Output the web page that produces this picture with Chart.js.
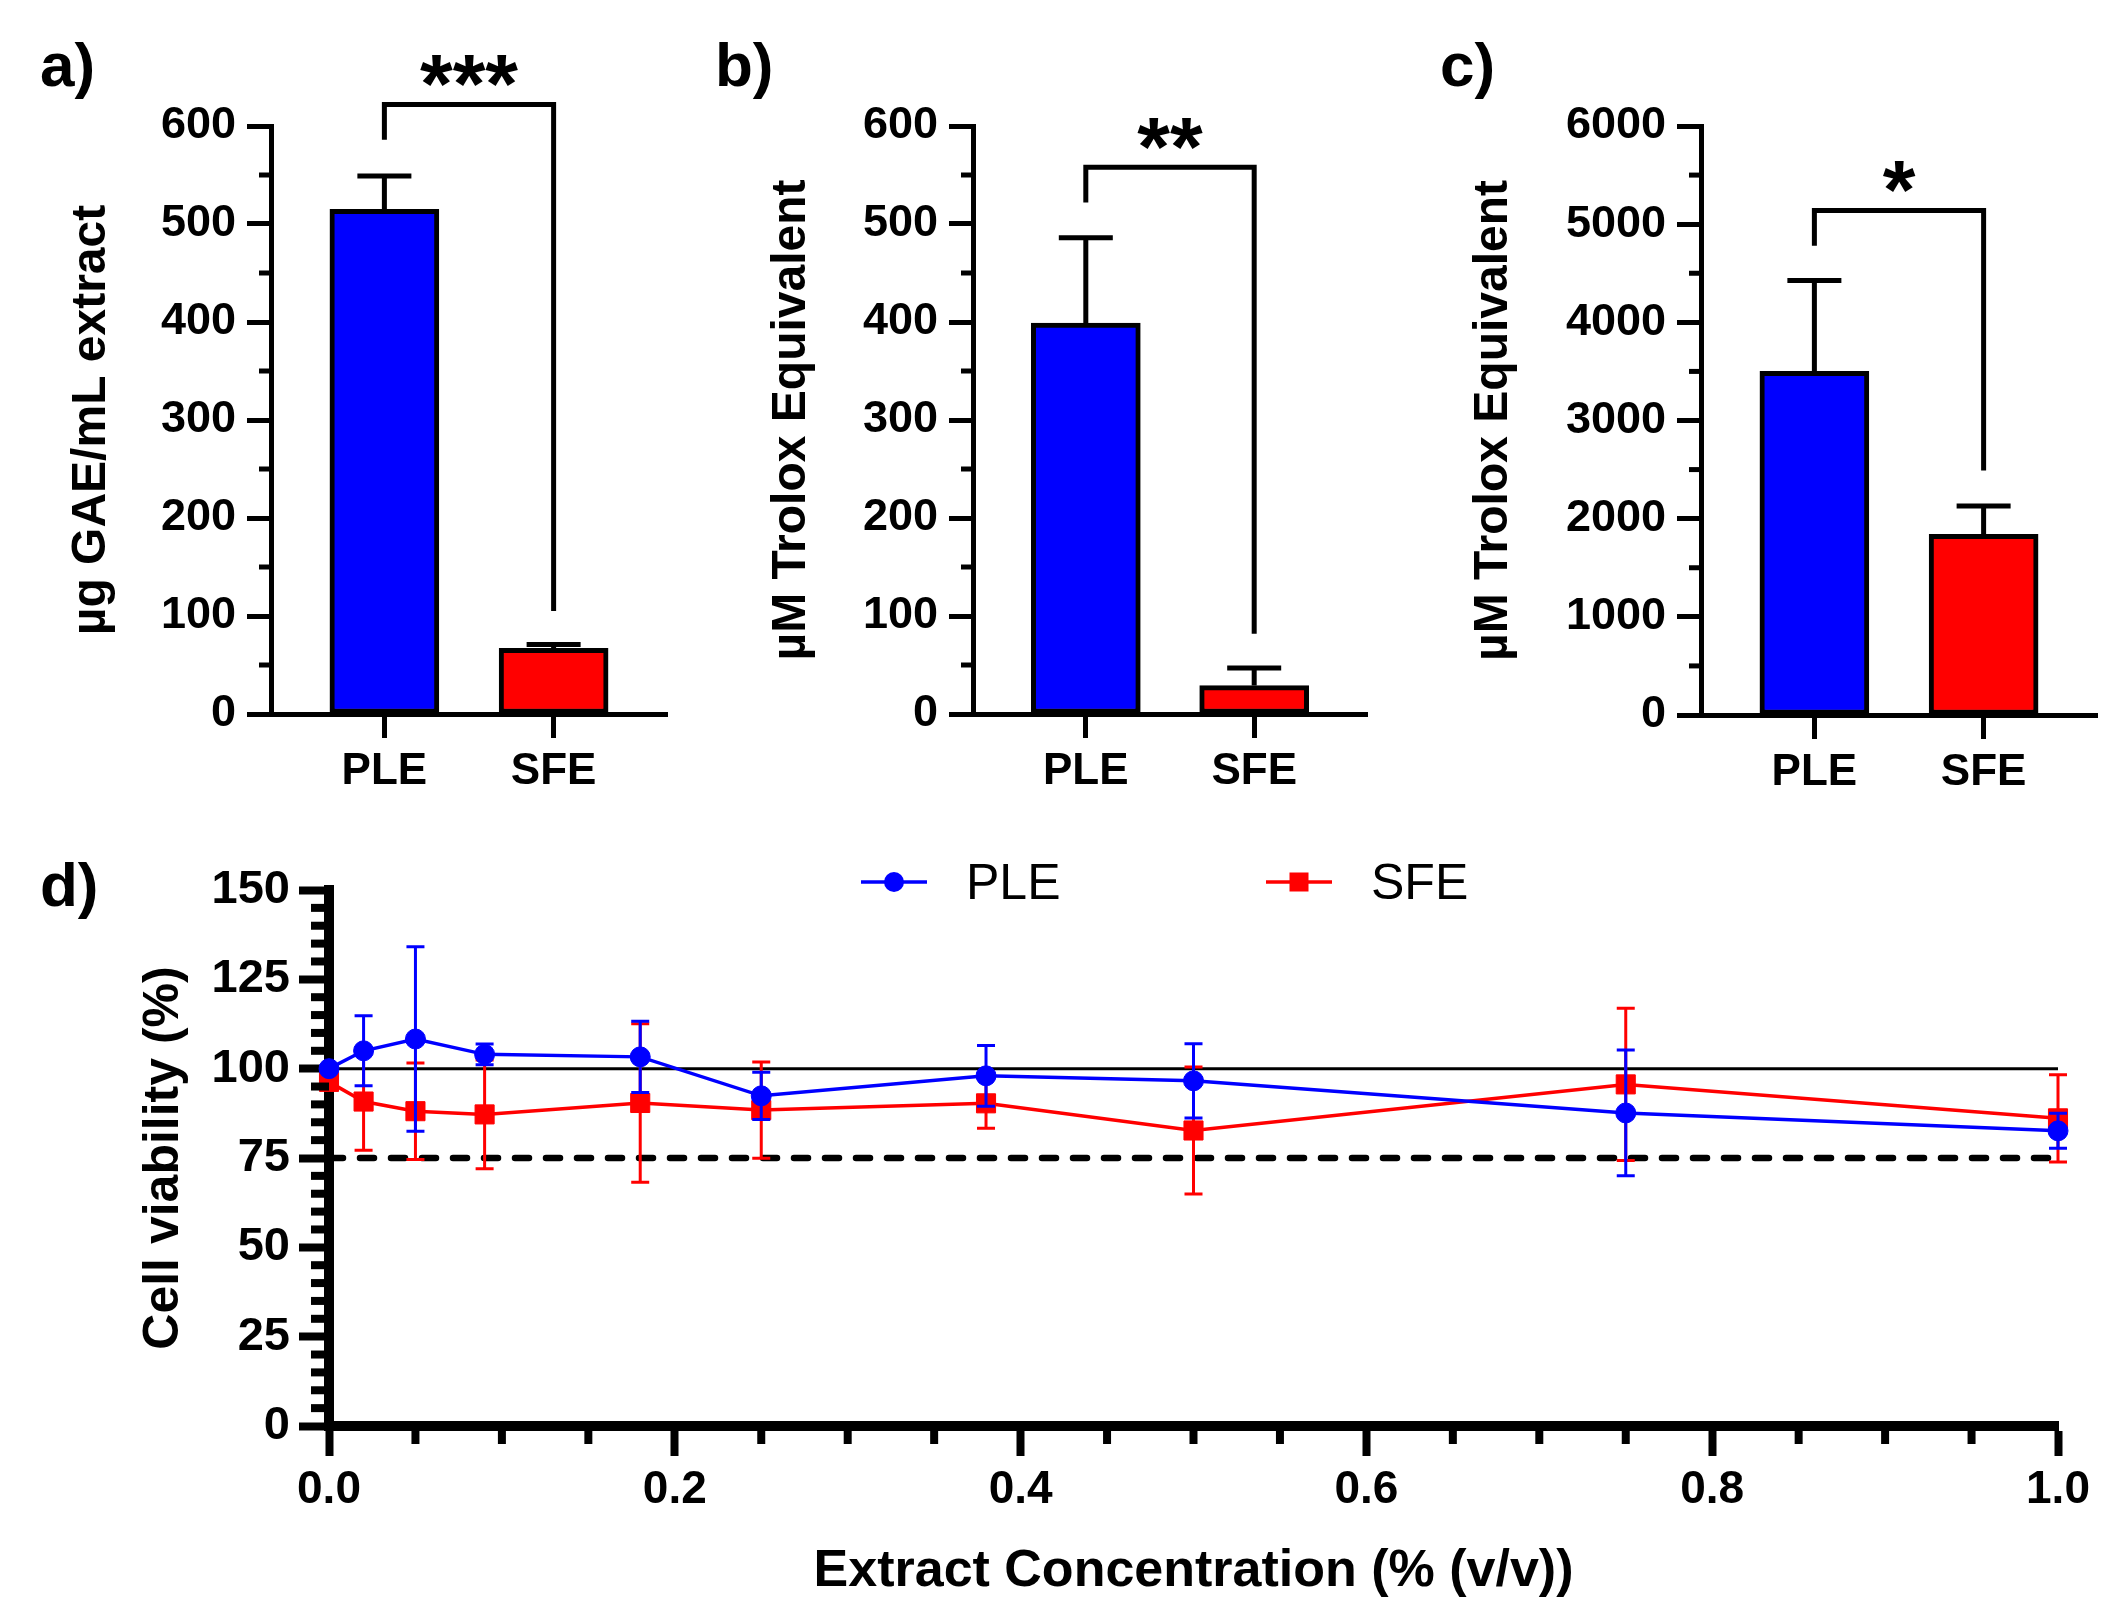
<!DOCTYPE html>
<html>
<head>
<meta charset="utf-8">
<script src="https://cdn.jsdelivr.net/npm/chart.js@4.4.1/dist/chart.umd.min.js"></script>
<style>
  html, body { margin: 0; padding: 0; background: #fff; overflow: hidden; }
  #page { position: relative; width: 2124px; height: 1597px; background: #fff; }
  canvas { position: absolute; }
</style>
</head>
<body>
<div id="page">
  <canvas id="chartA" width="700" height="800" style="left:0;top:0"></canvas>
  <canvas id="chartB" width="700" height="800" style="left:700px;top:0"></canvas>
  <canvas id="chartC" width="724" height="800" style="left:1400px;top:0"></canvas>
  <canvas id="chartD" width="2124" height="820" style="left:0;top:800px"></canvas>
</div>
<script>
// ---- data ----
const groups = ["PLE", "SFE"];

// a) total phenolics
const phenolicsMean = [515, 67];
const phenolicsSd = [34, 4];
const phenolicsTicks = [0, 100, 200, 300, 400, 500, 600];
const phenolicsBracket = [586, 622, 105]; // left end, top, right end
const phenolicsStars = "***";

// b) Trolox equivalent (first assay)
const troloxBMean = [399, 29];
const troloxBSd = [87, 18];
const troloxBTicks = [0, 100, 200, 300, 400, 500, 600];
const troloxBBracket = [522, 558, 82];
const troloxBStars = "**";

// c) Trolox equivalent (second assay)
const troloxCMean = [3500, 1840];
const troloxCSd = [925, 290];
const troloxCTicks = [0, 1000, 2000, 3000, 4000, 5000, 6000];
const troloxCBracket = [4780, 5140, 2490];
const troloxCStars = "*";

// d) cell viability
const concentration = [0, 0.02, 0.05, 0.09, 0.18, 0.25, 0.38, 0.5, 0.75, 1.0];
const pleViability = [100, 105, 108.3, 104, 103.3, 92.4, 98, 96.6, 87.6, 82.6];
const pleSd = [0, 9.8, 25.8, 2.9, 10, 6.6, 8.5, 10.4, 17.6, 4.9];
const sfeViability = [96.3, 90.8, 88.1, 87.2, 90.4, 88.4, 90.3, 82.7, 95.6, 86.1];
const sfeSd = [2, 13.6, 13.5, 15.2, 22.2, 13.5, 7, 17.8, 21.3, 12.2];
const viabilityTicks = [0, 25, 50, 75, 100, 125, 150];
const concentrationTicks = [0, 0.2, 0.4, 0.6, 0.8, 1.0];
const controlLevel = 100;
const cutoffLevel = 75;

const FONT = "'Liberation Sans', Arial, Helvetica, sans-serif";
Chart.defaults.font.family = FONT;
Chart.defaults.color = "#000";

// short unlabeled ticks
const minorTicks = {
  id: "minorTicks",
  afterDraw(chart, args, o) {
    const { ctx, chartArea, scales } = chart;
    ctx.save();
    ctx.strokeStyle = "#000";
    ctx.lineWidth = o.width;
    scales.y.ticks.forEach((t) => {
      if (t.label !== "") return;
      const p = scales.y.getPixelForValue(t.value);
      ctx.beginPath();
      ctx.moveTo(chartArea.left, p);
      ctx.lineTo(chartArea.left - o.len, p);
      ctx.stroke();
    });
    if (o.x) {
      scales.x.ticks.forEach((t) => {
        if (t.label !== "") return;
        const p = scales.x.getPixelForValue(t.value);
        ctx.beginPath();
        ctx.moveTo(p, chartArea.bottom);
        ctx.lineTo(p, chartArea.bottom + o.len);
        ctx.stroke();
      });
    }
    ctx.restore();
  },
};

function drawErrors(chart, index, o) {
  const ds = chart.data.datasets[index];
  if (!ds.sd) return;
  const meta = chart.getDatasetMeta(index);
  const { ctx, scales } = chart;
  ctx.save();
  ctx.strokeStyle = ds.errColor || "#000";
  ctx.lineWidth = o.width;
  meta.data.forEach((el, i) => {
    const m = ds.data[i].y;
    const s = ds.sd[i];
    if (!s) return;
    const hi = scales.y.getPixelForValue(m + s);
    const lo = scales.y.getPixelForValue(o.both ? m - s : m);
    ctx.beginPath();
    ctx.moveTo(el.x, lo);
    ctx.lineTo(el.x, hi);
    ctx.moveTo(el.x - o.cap, hi);
    ctx.lineTo(el.x + o.cap, hi);
    if (o.both) {
      ctx.moveTo(el.x - o.cap, lo);
      ctx.lineTo(el.x + o.cap, lo);
    }
    ctx.stroke();
  });
  ctx.restore();
}

const errorBars = {
  id: "errorBars",
  beforeDatasetDraw(chart, args, o) {
    if (o.under) drawErrors(chart, args.index, o);
  },
  afterDatasetDraw(chart, args, o) {
    if (!o.under) drawErrors(chart, args.index, o);
  },
};

// panel letter + significance bracket
const annotate = {
  id: "annotate",
  afterDraw(chart, args, o) {
    const { ctx, scales } = chart;
    ctx.save();
    ctx.fillStyle = "#000";
    ctx.textBaseline = "alphabetic";
    ctx.font = "bold 62px " + FONT;
    ctx.fillText(o.tag, o.tagX, o.tagY);
    if (o.bracket) {
      const x1 = scales.x.getPixelForValue(1);
      const x2 = scales.x.getPixelForValue(2);
      const [l, top, r] = o.bracket;
      const yt = scales.y.getPixelForValue(top);
      ctx.strokeStyle = "#000";
      ctx.lineWidth = 5;
      ctx.lineJoin = "miter";
      ctx.beginPath();
      ctx.moveTo(x1, scales.y.getPixelForValue(l));
      ctx.lineTo(x1, yt);
      ctx.lineTo(x2, yt);
      ctx.lineTo(x2, scales.y.getPixelForValue(r));
      ctx.stroke();
      ctx.font = "bold 84px " + FONT;
      ctx.textAlign = "center";
      ctx.fillText(o.stars, (x1 + x2) / 2, yt + 9);
    }
    ctx.restore();
  },
};

// legend drawn inside the plot: line + marker + label
const seriesKey = {
  id: "seriesKey",
  afterDraw(chart, args, o) {
    const { ctx, chartArea } = chart;
    ctx.save();
    o.items.forEach((it) => {
      const ds = chart.data.datasets[it.index];
      const cx = chartArea.left + it.dx;
      const cy = chartArea.top + o.dy;
      ctx.strokeStyle = ds.borderColor;
      ctx.fillStyle = ds.borderColor;
      ctx.lineWidth = 3.5;
      ctx.beginPath();
      ctx.moveTo(cx - 33, cy);
      ctx.lineTo(cx + 33, cy);
      ctx.stroke();
      if (ds.pointStyle === "rect") {
        ctx.fillRect(cx - 9.5, cy - 9.5, 19, 19);
      } else {
        ctx.beginPath();
        ctx.arc(cx, cy, 10, 0, Math.PI * 2);
        ctx.fill();
      }
      ctx.fillStyle = "#000";
      ctx.font = "50px " + FONT;
      ctx.textBaseline = "middle";
      ctx.fillText(ds.label, cx + 72, cy + 3);
    });
    ctx.restore();
  },
};

function barPanel(id, title, means, sds, tickList, step, max, bracket, stars, tag, box) {
  new Chart(document.getElementById(id), {
    type: "bar",
    data: {
      datasets: [
        {
          data: means.map((m, i) => ({ x: i + 1, y: m })),
          backgroundColor: ["#0000ff", "#ff0000"],
          borderColor: "#000",
          borderWidth: 5,
          borderSkipped: false,
          barThickness: 109,
          sd: sds,
          errColor: "#000",
        },
      ],
    },
    options: {
      responsive: false,
      animation: false,
      layout: { padding: { left: 0, top: box.top, right: box.right, bottom: 0 } },
      plugins: {
        legend: { display: false },
        tooltip: { enabled: false },
        minorTicks: { len: 12, width: 5 },
        errorBars: { width: 5, cap: 27, both: false, under: false },
        annotate: { tag: tag, tagX: box.tagX, tagY: 86, bracket: bracket, stars: stars },
      },
      scales: {
        x: {
          type: "linear",
          min: 0.33,
          max: 2.67,
          offset: false,
          afterBuildTicks: (s) => {
            s.ticks = groups.map((g, i) => ({ value: i + 1 }));
          },
          afterFit: (s) => {
            s.height = box.xh;
          },
          border: { color: "#000", width: 5 },
          grid: { drawOnChartArea: false, offset: false, tickLength: 24, tickWidth: 5, tickColor: "#000" },
          ticks: {
            callback: (v) => groups[v - 1],
            autoSkip: false,
            maxRotation: 0,
            padding: 7,
            font: { size: 44, weight: "bold" },
          },
        },
        y: {
          min: 0,
          max: max,
          afterFit: (s) => {
            s.width = box.yw;
          },
          border: { color: "#000", width: 5 },
          grid: {
            drawOnChartArea: false,
            tickLength: 24,
            tickWidth: 5,
            tickColor: (c) => (c.tick && c.tick.label !== "" ? "#000" : "rgba(0,0,0,0)"),
          },
          ticks: {
            stepSize: step,
            autoSkip: false,
            padding: 11,
            callback: (v) => (tickList.includes(v) ? String(v) : ""),
            font: { size: 45, weight: "bold" },
          },
          title: {
            display: true,
            text: title,
            font: { size: 48, weight: "bold" },
            padding: { top: box.tp, bottom: 0 },
          },
        },
      },
    },
    plugins: [minorTicks, errorBars, annotate],
  });
}

barPanel("chartA", "µg GAE/mL extract", phenolicsMean, phenolicsSd, phenolicsTicks, 50, 600,
  phenolicsBracket, phenolicsStars, "a)", { top: 126, right: 33, xh: 86, yw: 271, tp: 63, tagX: 40 });
barPanel("chartB", "µM Trolox Equivalent", troloxBMean, troloxBSd, troloxBTicks, 50, 600,
  troloxBBracket, troloxBStars, "b)", { top: 126, right: 33, xh: 86, yw: 273, tp: 63, tagX: 15 });
barPanel("chartC", "µM Trolox Equivalent", troloxCMean, troloxCSd, troloxCTicks, 500, 6000,
  troloxCBracket, troloxCStars, "c)", { top: 126, right: 27, xh: 85, yw: 301, tp: 65, tagX: 40 });

// ---- panel d ----
new Chart(document.getElementById("chartD"), {
  type: "line",
  data: {
    datasets: [
      {
        label: "PLE",
        data: concentration.map((c, i) => ({ x: c, y: pleViability[i] })),
        borderColor: "#0000ff",
        backgroundColor: "#0000ff",
        pointBackgroundColor: "#0000ff",
        pointBorderColor: "#0000ff",
        borderWidth: 3.5,
        pointStyle: "circle",
        pointRadius: 10,
        pointBorderWidth: 1,
        tension: 0,
        clip: false,
        sd: pleSd,
        errColor: "#0000ff",
      },
      {
        label: "SFE",
        data: concentration.map((c, i) => ({ x: c, y: sfeViability[i] })),
        borderColor: "#ff0000",
        backgroundColor: "#ff0000",
        pointBackgroundColor: "#ff0000",
        pointBorderColor: "#ff0000",
        borderWidth: 3.5,
        pointStyle: "rect",
        pointRadius: 13.5,
        pointBorderWidth: 1,
        tension: 0,
        clip: false,
        sd: sfeSd,
        errColor: "#ff0000",
      },
      {
        label: "control",
        data: [{ x: 0, y: controlLevel }, { x: 1, y: controlLevel }],
        borderColor: "#000",
        borderWidth: 3,
        pointRadius: 0,
      },
      {
        label: "cutoff",
        data: [{ x: 0, y: cutoffLevel }, { x: 1, y: cutoffLevel }],
        borderColor: "#000",
        borderWidth: 6.5,
        borderDash: [14, 17],
        borderCapStyle: "round",
        pointRadius: 0,
      },
    ],
  },
  options: {
    responsive: false,
    animation: false,
    layout: { padding: { left: 0, top: 90, right: 66, bottom: 0 } },
    plugins: {
      legend: { display: false },
      tooltip: { enabled: false },
      minorTicks: { len: 18, width: 8, x: true },
      errorBars: { width: 3, cap: 9, both: true, under: true },
      annotate: { tag: "d)", tagX: 40, tagY: 106 },
      seriesKey: { dy: -8, items: [{ index: 0, dx: 565 }, { index: 1, dx: 970 }] },
    },
    scales: {
      x: {
        type: "linear",
        min: 0,
        max: 1,
        afterFit: (s) => {
          s.height = 194;
        },
        border: { color: "#000", width: 10 },
        grid: {
          drawOnChartArea: false,
          tickLength: 30,
          tickWidth: 8,
          tickColor: (c) => (c.tick && c.tick.label !== "" ? "#000" : "rgba(0,0,0,0)"),
        },
        ticks: {
          stepSize: 0.05,
          autoSkip: false,
          maxRotation: 0,
          padding: 7,
          callback: (v) => (concentrationTicks.some((t) => Math.abs(t - v) < 1e-9) ? v.toFixed(1) : ""),
          font: { size: 46, weight: "bold" },
        },
        title: {
          display: true,
          text: "Extract Concentration (% (v/v))",
          font: { size: 52, weight: "bold" },
          padding: { top: 0, bottom: 17 },
        },
      },
      y: {
        min: 0,
        max: 150,
        afterFit: (s) => {
          s.width = 329;
        },
        border: { color: "#000", width: 10 },
        grid: {
          drawOnChartArea: false,
          tickLength: 30,
          tickWidth: 8,
          tickColor: (c) => (c.tick && c.tick.label !== "" ? "#000" : "rgba(0,0,0,0)"),
        },
        ticks: {
          stepSize: 5,
          autoSkip: false,
          padding: 9,
          callback: (v) => (viabilityTicks.includes(v) ? String(v) : ""),
          font: { size: 47, weight: "bold" },
        },
        title: {
          display: true,
          text: "Cell viability (%)",
          font: { size: 50, weight: "bold" },
          padding: { top: 134, bottom: 0 },
        },
      },
    },
  },
  plugins: [minorTicks, errorBars, annotate, seriesKey],
});
</script>
</body>
</html>
